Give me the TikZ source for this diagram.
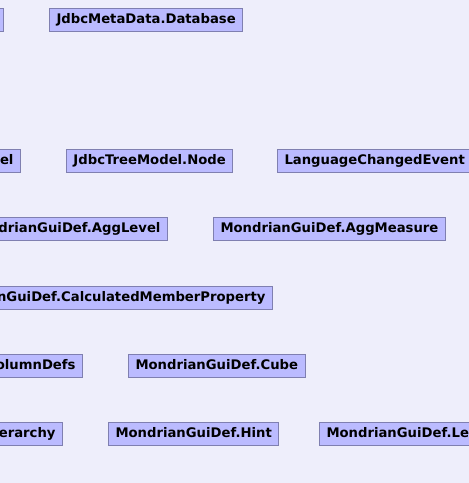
\documentclass[tikz,border=0pt]{standalone}
\usepackage{xcolor}
\usepackage{fontspec}
\setmainfont{DejaVu Sans}
\definecolor{bgcol}{HTML}{EEEEFB}
\definecolor{boxfill}{HTML}{BBBBFF}
\definecolor{boxdraw}{HTML}{7F7FB0}
\tikzset{
  classbox/.style={draw=boxdraw, fill=boxfill, line width=1pt,
    font=\fontsize{13.2}{15}\selectfont\bfseries, text=black,
    inner xsep=7pt, inner ysep=0pt, minimum height=23pt,
    text height=10pt, text depth=2.6pt}
}
\begin{document}
\begin{tikzpicture}[x=1pt,y=-1pt]
	\useasboundingbox (0,0) rectangle (469,483);
	\fill[bgcol] (0,0) rectangle (469,483);
	\clip (0,0) rectangle (469,483);
		% row 1
		\node[classbox, anchor=east] (jdbcMetaData) at (4,20) {JdbcMetaData};
		\node[classbox, anchor=west] (jdbcMetaDataDatabase) at (49,20) {JdbcMetaData.Database};
		% row 2
		\node[classbox, anchor=east] (jdbcTreeModel) at (21,160.5) {JdbcTreeModel};
		\node[classbox, anchor=west] (jdbcTreeModelNode) at (66,160.5) {JdbcTreeModel.Node};
		\node[classbox, anchor=west] (languageChangedEvent) at (277,160.5) {LanguageChangedEvent};
		% row 3
		\node[classbox, anchor=east] (aggLevel) at (168,229) {MondrianGuiDef.AggLevel};
		\node[classbox, anchor=west] (aggMeasure) at (213,229) {MondrianGuiDef.AggMeasure};
		% row 4
		\node[classbox, anchor=east] (calculatedMemberProperty) at (273,297.5) {MondrianGuiDef.CalculatedMemberProperty};
		% row 5
		\node[classbox, anchor=east] (columnDefs) at (83,365.5) {MondrianGuiDef.ColumnDefs};
		\node[classbox, anchor=west] (cube) at (128,365.5) {MondrianGuiDef.Cube};
		% row 6
		\node[classbox, anchor=east] (hierarchy) at (63,433.5) {MondrianGuiDef.Hierarchy};
		\node[classbox, anchor=west] (hint) at (108,433.5) {MondrianGuiDef.Hint};
		\node[classbox, anchor=west] (level) at (319,433.5) {MondrianGuiDef.Level};
\end{tikzpicture}
\end{document}
